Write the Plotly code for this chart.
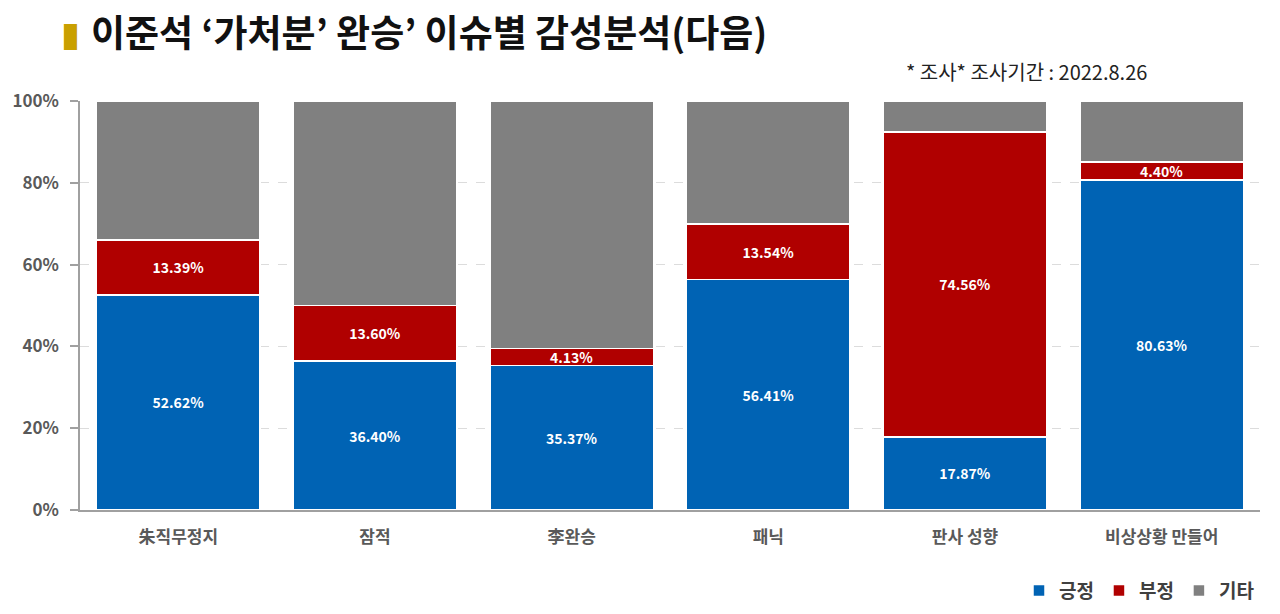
import plotly.graph_objects as go

categories = ["朱직무정지", "잠적", "李완승", "패닉", "판사 성향", "비상상황 만들어"]
positive = [52.62, 36.40, 35.37, 56.41, 17.87, 80.63]
negative = [13.39, 13.60, 4.13, 13.54, 74.56, 4.40]
other = [33.99, 50.00, 60.50, 30.05, 7.57, 14.97]
series_names = ["긍정", "부정", "기타"]
y_ticks = [0, 20, 40, 60, 80, 100]
y_tick_labels = ["0%", "20%", "40%", "60%", "80%", "100%"]

FONT = "Noto Sans CJK KR"
colors = ["#0063B4", "#B00000", "#808080"]

fig = go.Figure()
for name, vals, col, show_text in [
    (series_names[0], positive, colors[0], True),
    (series_names[1], negative, colors[1], True),
    (series_names[2], other, colors[2], False),
]:
    fig.add_trace(go.Bar(
        x=categories, y=vals, name=name,
        marker=dict(color=col, line=dict(color="white", width=1.5)),
        text=[f"{v:.2f}%" for v in vals] if show_text else None,
        textposition="inside" if show_text else "none",
        insidetextanchor="middle",
        textangle=0,
        textfont=dict(family=FONT, size=14, color="white", weight="bold"),
        hoverinfo="x+y+name",
    ))

fig.update_layout(
    barmode="stack",
    bargap=0.17,
    width=1280, height=614,
    margin=dict(l=80, r=20, t=101, b=104, autoexpand=False),
    paper_bgcolor="white", plot_bgcolor="white",
    font=dict(family=FONT, color="#595959"),
    uniformtext=dict(minsize=14, mode="show"),
    showlegend=True,
    legend=dict(
        orientation="h", x=1.0, xanchor="right",
        yref="container", y=0.038, yanchor="middle",
        font=dict(family=FONT, size=19, color="#404040", weight="bold"),
        traceorder="normal", itemwidth=30,
        bgcolor="rgba(0,0,0,0)",
    ),
    xaxis=dict(
        showline=True, linecolor="#A0A0A0", linewidth=1.5,
        ticks="outside", ticklen=11, tickcolor="rgba(0,0,0,0)",
        tickfont=dict(family=FONT, size=17, color="#595959", weight="bold"),
        showgrid=False, zeroline=False, automargin=False,
    ),
    yaxis=dict(
        range=[0, 100],
        tickvals=y_ticks, ticktext=y_tick_labels,
        showline=True, linecolor="#A0A0A0", linewidth=1.5,
        ticks="outside", ticklen=8, tickcolor="#A0A0A0", tickwidth=1.5,
        ticklabelstandoff=8,
        tickfont=dict(family=FONT, size=17, color="#595959", weight="bold"),
        showgrid=True, gridcolor="#DCDCDC", griddash="dash", gridwidth=1,
        zeroline=False, automargin=False,
    ),
    annotations=[
        dict(text="▌", xref="paper", yref="paper", x=-0.015, y=1.0,
             xanchor="left", yanchor="bottom", yshift=45, showarrow=False,
             font=dict(family=FONT, size=26, color="#C9A000")),
        dict(text="<b>이준석 ‘가처분’ 완승’ 이슈별 감성분석(다음)</b>", xref="paper", yref="paper",
             x=0.008, y=1.0, xanchor="left", yanchor="bottom", yshift=41, showarrow=False,
             font=dict(family=FONT, size=37, color="#111111")),
        dict(text="* 조사* 조사기간 : 2022.8.26", xref="paper", yref="paper",
             x=0.698, y=1.0, xanchor="left", yanchor="bottom", yshift=13, showarrow=False,
             font=dict(family=FONT, size=20, color="#222222")),
    ],
)

fig.write_html("out.html")
